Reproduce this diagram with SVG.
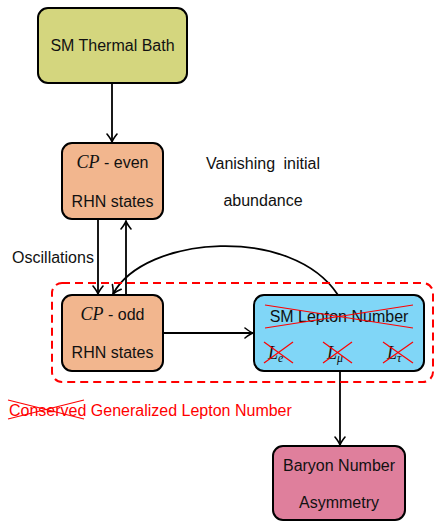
<svg xmlns="http://www.w3.org/2000/svg" width="435" height="521" viewBox="0 0 435 521">
<defs>
<marker id="ah" markerWidth="12" markerHeight="12" viewBox="-10 -6 12 12" refX="0" refY="0" orient="auto" markerUnits="userSpaceOnUse">
<path d="M-8,-5 Q-3,-1 0,0 Q-3,1 -8,5" fill="none" stroke="#000" stroke-width="1.6" stroke-linecap="round"/>
</marker>
</defs>
<style>
.box{stroke:#000;stroke-width:2}
.t{font-family:"Liberation Sans",Arial,sans-serif;font-size:16px;fill:#111;text-anchor:middle}
.s{text-anchor:start}
.m{font-family:"Liberation Serif","Times New Roman",serif;font-style:italic;font-size:18px}
.sub{font-size:12px}
.c{fill:none;stroke:#000;stroke-width:1.8;marker-end:url(#ah)}
.x{stroke:#f00;stroke-width:1.2}
</style>
<g id="connectors">
<line class="c" x1="112" y1="84" x2="112" y2="142"/>
<line class="c" x1="98" y1="220" x2="98" y2="294"/>
<line class="c" x1="126" y1="295" x2="126" y2="221"/>
<line class="c" x1="163" y1="333" x2="253" y2="333"/>
<path class="c" d="M338,295 C292,225 145,235 113,294"/>
<line class="c" x1="340" y1="372" x2="340" y2="445"/>
</g>
<g id="group-dashed">
<rect x="52" y="283" width="381" height="99" rx="10" fill="none" stroke="#f00" stroke-width="2" stroke-dasharray="8,5"/>
</g>
<g id="thermal">
<rect class="box" x="38" y="8" width="149" height="75" rx="10" fill="#d4d67e"/>
<text class="t" x="112.5" y="51">SM Thermal Bath</text>
</g>
<g id="cp-even">
<rect class="box" x="62" y="143" width="101" height="76" rx="10" fill="#f2b68e"/>
<text class="t" x="112.5" y="168"><tspan class="m">CP</tspan> - even</text>
<text class="t" x="112.5" y="207">RHN states</text>
</g>
<g id="vanishing">
<text class="t" x="263" y="169" word-spacing="4">Vanishing initial</text>
<text class="t" x="263" y="206">abundance</text>
</g>
<g id="oscillations">
<text class="t" x="53" y="263">Oscillations</text>
</g>
<g id="cp-odd">
<rect class="box" x="62" y="295" width="101" height="76" rx="10" fill="#f2b68e"/>
<text class="t" x="112.5" y="320"><tspan class="m">CP</tspan> - odd</text>
<text class="t" x="112.5" y="358">RHN states</text>
</g>
<g id="sm-lepton">
<rect class="box" x="254" y="295" width="170" height="76" rx="10" fill="#80d6f7"/>
<text class="t" x="339" y="322">SM Lepton Number</text>
<line class="x" x1="265" y1="305" x2="413" y2="328"/>
<line class="x" x1="265" y1="328" x2="413" y2="305"/>
<text class="t s" x="268" y="359"><tspan class="m">L</tspan><tspan class="m sub" dy="3">e</tspan></text>
<text class="t s" x="327" y="359"><tspan class="m">L</tspan><tspan class="m sub" dy="3">μ</tspan></text>
<text class="t s" x="387" y="359"><tspan class="m">L</tspan><tspan class="m sub" dy="3">τ</tspan></text>
<line class="x" x1="264" y1="342" x2="293" y2="363"/>
<line class="x" x1="264" y1="363" x2="293" y2="342"/>
<line class="x" x1="323" y1="342" x2="352" y2="363"/>
<line class="x" x1="323" y1="363" x2="352" y2="342"/>
<line class="x" x1="383" y1="342" x2="413" y2="363"/>
<line class="x" x1="383" y1="363" x2="413" y2="342"/>
</g>
<g id="conserved">
<text class="t s" x="9" y="416" style="fill:#f00">Conserved Generalized Lepton Number</text>
<line class="x" x1="8" y1="400" x2="84" y2="419"/>
<line class="x" x1="8" y1="419" x2="84" y2="400"/>
</g>
<g id="baryon">
<rect class="box" x="273" y="446" width="132" height="74" rx="10" fill="#df7f9c"/>
<text class="t" x="339" y="471">Baryon Number</text>
<text class="t" x="339" y="508">Asymmetry</text>
</g>
</svg>
